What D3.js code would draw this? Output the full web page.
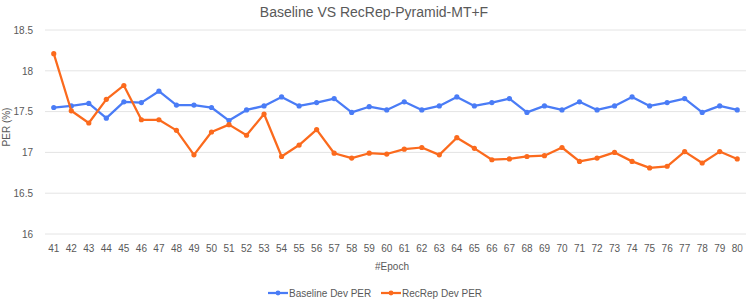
<!DOCTYPE html>
<html>
<head>
<meta charset="utf-8">
<script src="https://cdn.jsdelivr.net/npm/d3@7"></script>
<style>
  body { margin: 0; background: #fff; }
  svg { font-family: "Liberation Sans", Arial, sans-serif; }
</style>
</head>
<body>
<svg id="chart" width="748" height="299"></svg>
<script>
const epochs = d3.range(41, 81);
const baseline = [17.55, 17.57, 17.6, 17.42, 17.62, 17.61, 17.75, 17.58, 17.58, 17.55,
  17.39, 17.52, 17.57, 17.68, 17.57, 17.61, 17.66, 17.49, 17.56, 17.52,
  17.62, 17.52, 17.57, 17.68, 17.57, 17.61, 17.66, 17.49, 17.57, 17.52,
  17.62, 17.52, 17.57, 17.68, 17.57, 17.61, 17.66, 17.49, 17.57, 17.52];
const recrep = [18.21, 17.51, 17.36, 17.65, 17.82, 17.4, 17.4, 17.27, 16.97, 17.25,
  17.34, 17.21, 17.47, 16.95, 17.09, 17.28, 16.99, 16.93, 16.99, 16.98,
  17.04, 17.06, 16.97, 17.18, 17.05, 16.91, 16.92, 16.95, 16.96, 17.06,
  16.89, 16.93, 17.0, 16.89, 16.81, 16.83, 17.01, 16.87, 17.01, 16.92];
const yTicks = [16, 16.5, 17, 17.5, 18, 18.5];
const seriesNames = ['Baseline Dev PER', 'RecRep Dev PER'];
const colors = ['#4a7cf6', '#fb6a1d'];

const MARGINS = { top: 30, right: 2, bottom: 65, left: 45 };
const width = 748, height = 299;
const svg = d3.select('#chart');

const x = d3.scaleBand()
  .domain(epochs)
  .range([MARGINS.left, width - MARGINS.right]);
const y = d3.scaleLinear()
  .domain([16, 18.5])
  .range([height - MARGINS.bottom, MARGINS.top]);

// gridlines
svg.append('g')
  .selectAll('line')
  .data(yTicks)
  .join('line')
  .attr('x1', MARGINS.left)
  .attr('x2', width - MARGINS.right)
  .attr('y1', d => y(d))
  .attr('y2', d => y(d))
  .attr('stroke', '#e4e4e4')
  .attr('stroke-width', 1);

// y axis labels
const yAxis = svg.append('g')
  .attr('transform', 'translate(36,0)')
  .call(d3.axisLeft(y).tickValues(yTicks).tickSize(0).tickFormat(d3.format('')));
yAxis.select('.domain').remove();
yAxis.selectAll('text')
  .attr('fill', '#595959')
  .attr('font-size', 10)
  .attr('font-family', '"Liberation Sans", Arial, sans-serif');

// x axis labels
const xAxis = svg.append('g')
  .attr('transform', `translate(0,${height - MARGINS.bottom + 8})`)
  .call(d3.axisBottom(x).tickSize(0));
xAxis.select('.domain').remove();
xAxis.selectAll('text')
  .attr('fill', '#595959')
  .attr('font-size', 10)
  .attr('font-family', '"Liberation Sans", Arial, sans-serif');

const cx = d => x(d) + x.bandwidth() / 2;

[baseline, recrep].forEach((values, i) => {
  const pts = epochs.map((e, j) => ({ e, v: values[j] }));
  svg.append('path')
    .datum(pts)
    .attr('fill', 'none')
    .attr('stroke', colors[i])
    .attr('stroke-width', 2.25)
    .attr('stroke-linejoin', 'round')
    .attr('d', d3.line().x(d => cx(d.e)).y(d => y(d.v)));
  svg.append('g')
    .selectAll('circle')
    .data(pts)
    .join('circle')
    .attr('cx', d => cx(d.e))
    .attr('cy', d => y(d.v))
    .attr('r', 2.6)
    .attr('fill', colors[i]);
});

// title
svg.append('text')
  .attr('x', 374)
  .attr('y', 17)
  .attr('text-anchor', 'middle')
  .attr('fill', '#595959')
  .attr('font-size', 14)
  .text('Baseline VS RecRep-Pyramid-MT+F');

// axis titles
svg.append('text')
  .attr('x', 392)
  .attr('y', 270)
  .attr('text-anchor', 'middle')
  .attr('fill', '#595959')
  .attr('font-size', 10)
  .text('#Epoch');
svg.append('text')
  .attr('transform', 'translate(10,127) rotate(-90)')
  .attr('text-anchor', 'middle')
  .attr('fill', '#595959')
  .attr('font-size', 10)
  .text('PER (%)');

// legend
const legendX = [268, 381];
seriesNames.forEach((name, i) => {
  const g = svg.append('g').attr('transform', `translate(${legendX[i]},293)`);
  g.append('line').attr('x1', 0).attr('x2', 20).attr('stroke', colors[i]).attr('stroke-width', 2.25);
  g.append('circle').attr('cx', 10).attr('r', 2.4).attr('fill', colors[i]);
  g.append('text')
    .attr('x', 21)
    .attr('dy', '0.35em')
    .attr('fill', '#595959')
    .attr('font-size', 10)
    .text(name);
});
</script>
</body>
</html>
